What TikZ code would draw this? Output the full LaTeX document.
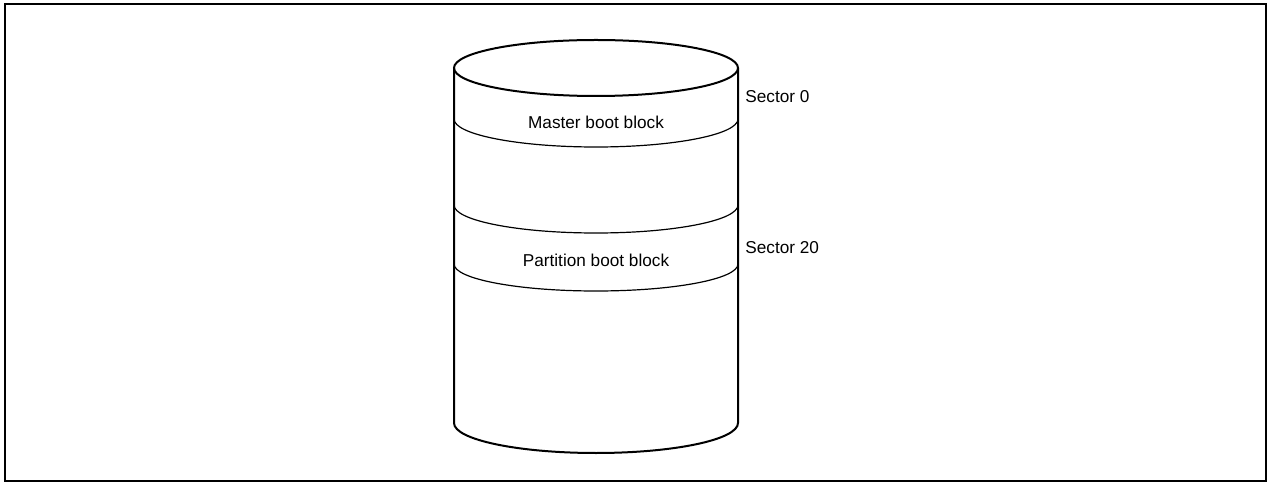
\documentclass[tikz,border=0pt]{standalone}
\usepackage{fontspec}
\setmainfont{Liberation Sans}

\begin{document}
\begin{tikzpicture}[x=0.5pt,y=0.5pt,
  outline/.style={black,line width=1pt},
  band/.style={black,line width=0.6pt},
  label/.style={font=\fontsize{8.6pt}{10pt}\selectfont,inner sep=0pt}]
\useasboundingbox (0,0) rectangle (1268,482);

\coordinate (TL) at (454,414);
\coordinate (TR) at (738,414);
\coordinate (BL) at (454,59);
\coordinate (BR) at (738,59);

\draw[outline] (5,1) rectangle (1266,478);

% disk
\draw[outline] (596,414) ellipse [x radius=142,y radius=28];
\draw[outline] (TL) -- (BL) arc[start angle=180,end angle=360,x radius=142,y radius=30] -- (TR);
\draw[band] (454,363) arc[start angle=180,end angle=360,x radius=142,y radius=28];
\draw[band] (454,277) arc[start angle=180,end angle=360,x radius=142,y radius=28];
\draw[band] (454,218) arc[start angle=180,end angle=360,x radius=142,y radius=27];

\node[label,anchor=base] (master) at (596,353) {Master boot block};
\node[label,anchor=base] (partition) at (596,215) {Partition boot block};
\node[label,anchor=base west] (sec0) at (745,379) {Sector 0};
\node[label,anchor=base west] (sec20) at (745,228) {Sector 20};

\end{tikzpicture}
\end{document}
